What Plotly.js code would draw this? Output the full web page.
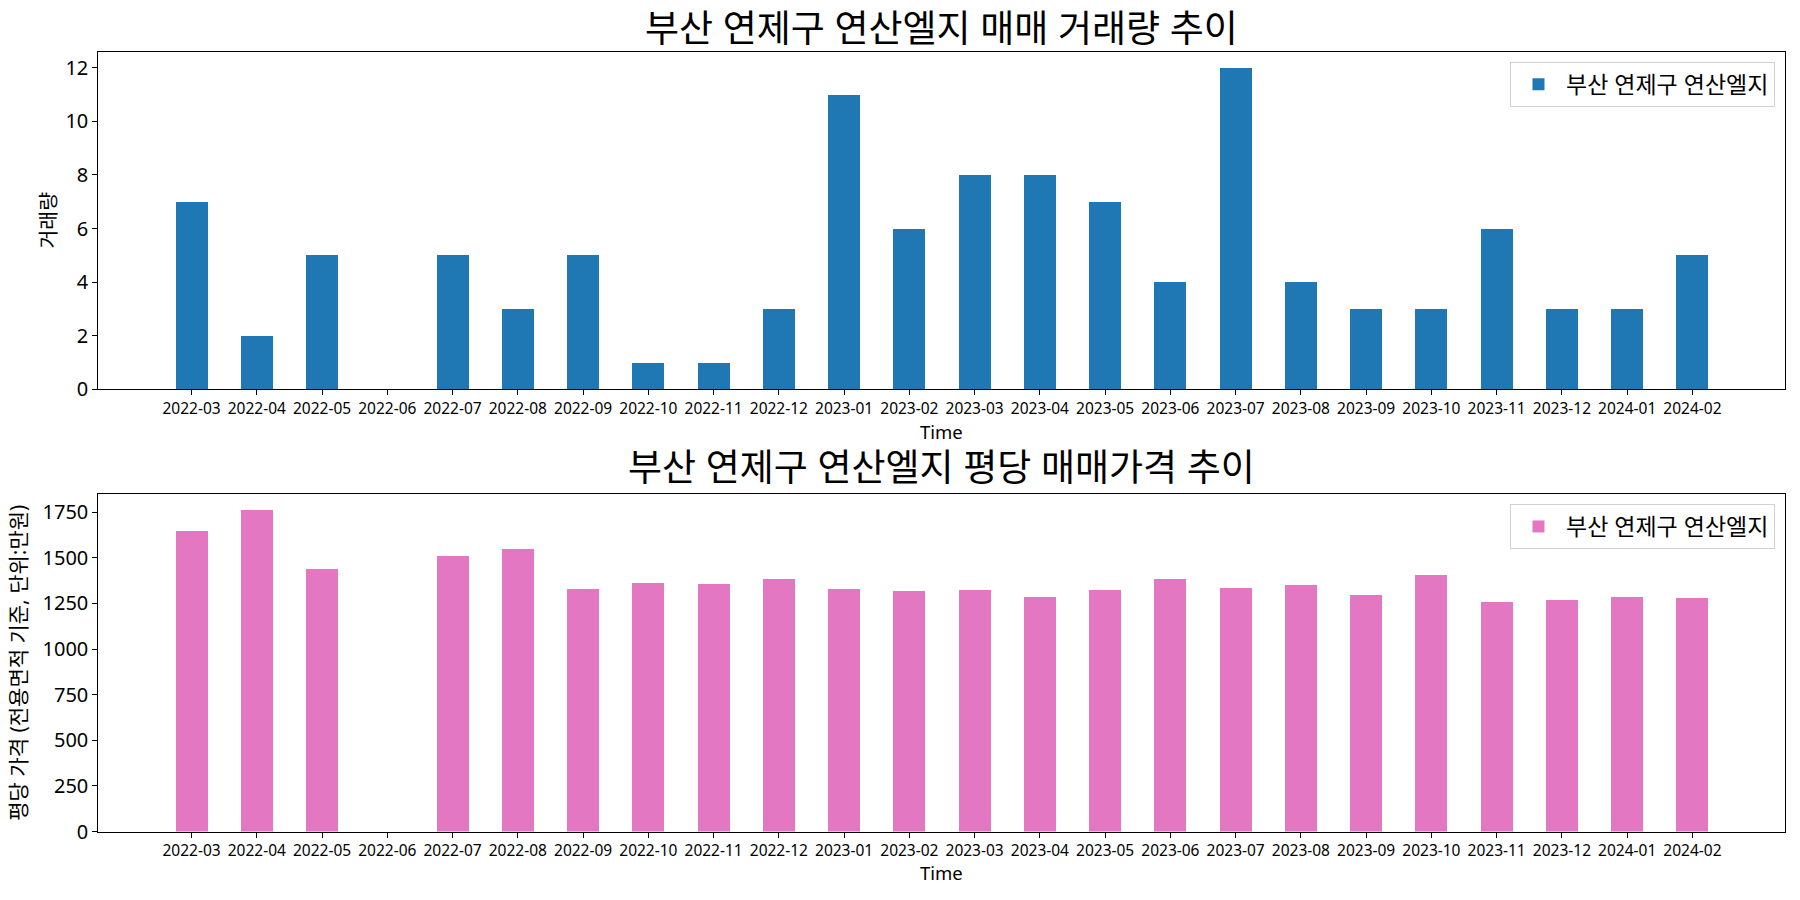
<!DOCTYPE html>
<html>
<head>
<meta charset="utf-8">
<script src="https://cdn.plot.ly/plotly-3.0.1.min.js"></script>
<style>html,body{margin:0;padding:0;background:#fff;}#chart{width:1800px;height:900px;}</style>
</head>
<body>
<div id="chart"></div>
<script>
const months = ["2022-03","2022-04","2022-05","2022-06","2022-07","2022-08","2022-09","2022-10","2022-11","2022-12",
  "2023-01","2023-02","2023-03","2023-04","2023-05","2023-06","2023-07","2023-08","2023-09","2023-10","2023-11","2023-12",
  "2024-01","2024-02"];
const volume = [7,2,5,0,5,3,5,1,1,3,11,6,8,8,7,4,12,4,3,3,6,3,3,5];
const pricePerPyeong = [1648,1763,1440,null,1511,1549,1330,1363,1358,1385,1330,1319,1325,1286,1325,1385,1336,1352,1297,1407,1259,1270,1286,1281];
const seriesName = "부산 연제구 연산엘지";
const title1 = "부산 연제구 연산엘지 매매 거래량 추이";
const title2 = "부산 연제구 연산엘지 평당 매매가격 추이";
const ylabel1 = "거래량";
const ylabel2 = "평당 가격 (전용면적 기준, 단위:만원)";
const xlabel = "Time";

const FONT = "Noto Sans, Noto Sans CJK KR, sans-serif";

const traces = [
  {type:"bar", x: months, y: volume, name: seriesName, marker:{color:"#1f77b4"}, width:0.49,
   xaxis:"x", yaxis:"y", legend:"legend"},
  {type:"bar", x: months, y: pricePerPyeong, name: seriesName, marker:{color:"#e377c2"}, width:0.49,
   xaxis:"x2", yaxis:"y2", legend:"legend2"}
];

const xRange = [-1.43, 24.42];
const xCommon = {
  type:"category", range:xRange, showgrid:false, zeroline:false,
  showline:true, linecolor:"#000", linewidth:1, mirror:true,
  ticks:"outside", ticklen:5, tickcolor:"#000", tickwidth:1,
  tickfont:{family:FONT, size:15.5, color:"#000"}, tickangle:0,
  automargin:false
};
const yCommon = {
  showgrid:false, zeroline:false, showline:true, linecolor:"#000", linewidth:1, mirror:true,
  ticks:"outside", ticklen:5, tickcolor:"#000", tickwidth:1,
  tickfont:{family:FONT, size:20, color:"#000"}, automargin:false
};

const legendCommon = {xanchor:"right", yanchor:"top", bgcolor:"rgba(255,255,255,0.8)",
  bordercolor:"#d0d0d0", borderwidth:1, itemwidth:45, font:{family:FONT, size:23, color:"#000"}};

const layout = {
  width:1800, height:900,
  margin:{l:0, r:0, t:0, b:0},
  paper_bgcolor:"#fff", plot_bgcolor:"#fff",
  font:{family:FONT, color:"#000"},
  bargap:0,
  xaxis: Object.assign({}, xCommon, {domain:[0.0546,0.9917], anchor:"y"}),
  yaxis: Object.assign({}, yCommon, {domain:[0.5674,0.9426], anchor:"x", range:[0,12.6], dtick:2}),
  xaxis2: Object.assign({}, xCommon, {domain:[0.0546,0.9917], anchor:"y2"}),
  yaxis2: Object.assign({}, yCommon, {domain:[0.0761,0.4511], anchor:"x2", range:[0,1850], dtick:250}),
  legend: Object.assign({}, legendCommon, {x:0.9861, y:0.9314}),
  legend2: Object.assign({}, legendCommon, {x:0.9861, y:0.44}),
  annotations:[
    {text:title1, xref:"x domain", yref:"paper", x:0.5, y:1-27/900, xanchor:"center", yanchor:"middle",
     showarrow:false, font:{family:FONT, size:37, color:"#000"}},
    {text:title2, xref:"x2 domain", yref:"paper", x:0.5, y:1-467/900, xanchor:"center", yanchor:"middle",
     showarrow:false, font:{family:FONT, size:37, color:"#000"}},
    {text:xlabel, xref:"x domain", yref:"paper", x:0.5, y:1-431/900, xanchor:"center", yanchor:"middle",
     showarrow:false, font:{family:FONT, size:18.5, color:"#000"}},
    {text:xlabel, xref:"x2 domain", yref:"paper", x:0.5, y:1-872/900, xanchor:"center", yanchor:"middle",
     showarrow:false, font:{family:FONT, size:18.5, color:"#000"}},
    {text:ylabel1, xref:"paper", yref:"y domain", x:47/1800, y:0.5, xanchor:"center", yanchor:"middle",
     textangle:-90, showarrow:false, font:{family:FONT, size:20.5, color:"#000"}},
    {text:ylabel2, xref:"paper", yref:"y2 domain", x:18/1800, y:0.5, xanchor:"center", yanchor:"middle",
     textangle:-90, showarrow:false, font:{family:FONT, size:21, color:"#000"}}
  ],
  showlegend:true
};

Plotly.newPlot("chart", traces, layout, {displayModeBar:false, staticPlot:true});
</script>
</body>
</html>
